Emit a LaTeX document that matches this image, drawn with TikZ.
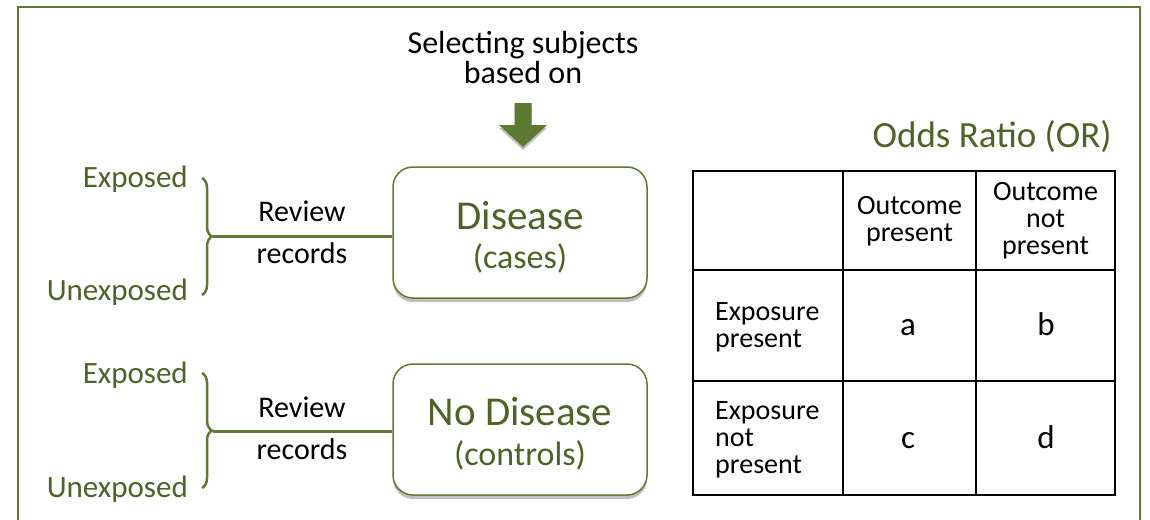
\documentclass[tikz,border=0pt]{standalone}
\usepackage{fontspec}
\setmainfont{Carlito}
\usetikzlibrary{decorations.pathreplacing,shadows}
\definecolor{ogreen}{HTML}{4F6228}
\definecolor{oline}{HTML}{5E7A32}
\begin{document}
\begin{tikzpicture}[x=1pt,y=-1pt,
  frame/.style={draw=oline,line width=2pt},
  groupbox/.style={draw=oline,line width=1.5pt,rounded corners=20pt,fill=white,
    minimum width=254pt,minimum height=131pt,inner sep=0pt,
    drop shadow={shadow xshift=0pt,shadow yshift=-4pt,opacity=0.25,fill=black}},
  gtext/.style={text=ogreen,inner sep=0pt},
  btext/.style={text=black,inner sep=0pt},
  bracestyle/.style={draw=oline,line width=2.5pt,decorate,decoration={brace,amplitude=10pt}},
  link/.style={draw=oline,line width=3pt},
  grid/.style={draw=black,line width=1.5pt},
  fExp/.style={font=\fontsize{31}{31}\selectfont},
  fRev/.style={font=\fontsize{30}{42}\selectfont},
  fTab/.style={font=\fontsize{28}{27}\selectfont},
  fLet/.style={font=\fontsize{33}{33}\selectfont}]
\clip (0,0) rectangle (1150,519);
\fill[white] (0,0) rectangle (1150,519);
\draw[frame] (18,7) rectangle (1140,560);

% title and arrow (base anchor = baseline of last line)
\node[btext,anchor=base,align=center,font=\fontsize{32}{30}\selectfont] (sel) at (523,83) {Selecting subjects\\based on};
\fill[oline,drop shadow={shadow xshift=0pt,shadow yshift=-3pt,opacity=0.25,fill=black}]
  (514.5,103) -- (531.5,103) -- (531.5,125) -- (547,125) -- (523,147) -- (499,125) -- (514.5,125) -- cycle;

% boxes
\node[groupbox] (box1) at (520,232.5) {};
\node[groupbox] (box2) at (520,429.5) {};
\node[gtext,anchor=base,font=\fontsize{41}{41}\selectfont] (t1) at (520,229) {Disease};
\node[gtext,anchor=base,font=\fontsize{34}{34}\selectfont] (t1b) at (520,268) {(cases)};
\node[gtext,anchor=base,font=\fontsize{41}{41}\selectfont] (t2) at (520,425) {No Disease};
\node[gtext,anchor=base,font=\fontsize{34}{34}\selectfont] (t2b) at (520,465) {(controls)};

% braces and labels, group 1
\node[gtext,fExp,anchor=base east] (e1) at (188,187) {Exposed};
\node[gtext,fExp,anchor=base east] (u1) at (188,300) {Unexposed};
\draw[bracestyle] (202,178) -- (202,295);
\coordinate (b1) at (213,236);
\draw[link] (b1) -- (b1 -| box1.west);
\node[btext,fRev,anchor=base,align=center] (r1) at (302,263) {Review\\records};

% group 2
\node[gtext,fExp,anchor=base east] (e2) at (188,383) {Exposed};
\node[gtext,fExp,anchor=base east] (u2) at (188,497) {Unexposed};
\draw[bracestyle] (202,373) -- (202,488);
\coordinate (b2) at (213,431);
\draw[link] (b2) -- (b2 -| box2.west);
\node[btext,fRev,anchor=base,align=center] (r2) at (302,459) {Review\\records};

% odds ratio table
\node[gtext,anchor=base east,font=\fontsize{37}{37}\selectfont] (or) at (1112,147) {Odds Ratio (OR)};
\draw[grid] (693,171) rectangle (1115,495);
\draw[grid] (843,171) -- (843,495);
\draw[grid] (976,171) -- (976,495);
\draw[grid] (693,270) -- (1115,270);
\draw[grid] (693,381) -- (1115,381);
\node[btext,fTab,anchor=base,align=center] (h1) at (909.5,241) {Outcome\\present};
\node[btext,fTab,anchor=base,align=center] (h2) at (1045.5,254) {Outcome\\not\\present};
\node[btext,fTab,anchor=base west,align=left] (rw1) at (715,347) {Exposure\\present};
\node[btext,fTab,anchor=base west,align=left] (rw2) at (715,473) {Exposure\\not\\present};
\node[btext,fLet,anchor=base] (ca) at (908,335) {a};
\node[btext,fLet,anchor=base] (cb) at (1046,335) {b};
\node[btext,fLet,anchor=base] (cc) at (908,448) {c};
\node[btext,fLet,anchor=base] (cd) at (1046,448) {d};
\end{tikzpicture}
\end{document}
